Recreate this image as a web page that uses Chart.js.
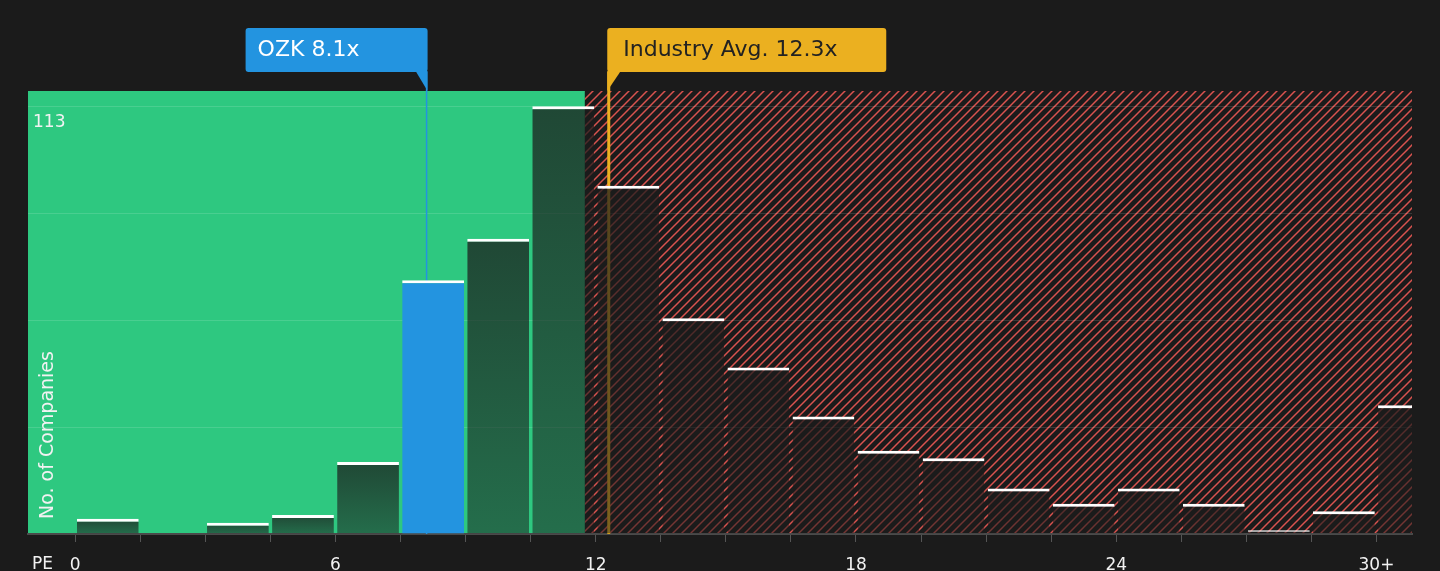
<!DOCTYPE html>
<html>
<head>
<meta charset="utf-8">
<title>PE distribution</title>
<script src="https://cdn.jsdelivr.net/npm/chart.js@4.4.1/dist/chart.umd.min.js"></script>
<style>
  html, body { margin: 0; padding: 0; background: #1b1b1b; }
  #peChart { display: block; }
</style>
</head>
<body>
<canvas id="peChart" width="1440" height="571"></canvas>
<script>
// PE bins (start of each 1.5 wide bin) and number of companies in each
var binStarts = [0, 1.5, 3, 4.5, 6, 7.5, 9, 10.5, 12, 13.5, 15, 16.5, 18, 19.5, 21, 22.5, 24, 25.5, 27, 28.5, 30];
var companyCounts = [4, 0, 3, 5, 19, 67, 78, 113, 92, 57, 44, 31, 22, 20, 12, 8, 12, 8, 1, 6, 34];
var binWidth = 1.5;

// axis labels
var labeledTicks = [0, 6, 12, 18, 24, 30];
var tickLabels = ['0', '6', '12', '18', '24', '30+'];
var yGridValues = [0, 28.25, 56.5, 84.75, 113];
var yTopLabel = 113;
var yMax = 117;
var xMin = -1.09;
var xMax = 30.82;

// markers
var ozkPE = 8.1;
var ozkLabel = 'OZK 8.1x';
var industryPE = 12.3;
var industryLabel = 'Industry Avg. 12.3x';
var greenZoneEnd = 11.75;

var FONT = '"DejaVu Sans", sans-serif';
var GREEN = '#2ec880';
var BLUE = '#2394e0';
var GOLD = '#ebb020';

var ctx = document.getElementById('peChart').getContext('2d');

// red diagonal hatch for the expensive zone
function makeHatch() {
    var p = document.createElement('canvas');
    p.width = 9; p.height = 9;
    var c = p.getContext('2d');
    c.fillStyle = '#1b1b1b';
    c.fillRect(0, 0, 9, 9);
    c.strokeStyle = '#d9534f';
    c.lineWidth = 1.5;
    c.beginPath();
    c.moveTo(0, 9); c.lineTo(9, 0);
    c.moveTo(-3, 3); c.lineTo(3, -3);
    c.moveTo(6, 12); c.lineTo(12, 6);
    c.stroke();
    return ctx.createPattern(p, 'repeat');
}
var hatch = makeHatch();

function isOzkBin(i) {
    return ozkPE >= binStarts[i] && ozkPE < binStarts[i] + binWidth;
}

// background zones + marker lines, drawn under grid and bars
var zonesPlugin = {
    id: 'zones',
    beforeDraw: function(chart) {
        var a = chart.chartArea, x = chart.scales.x, c = chart.ctx;
        var split = x.getPixelForValue(greenZoneEnd);
        c.save();
        c.fillStyle = GREEN;
        c.fillRect(a.left, a.top, split - a.left, a.bottom - a.top);
        c.fillStyle = hatch;
        c.fillRect(split, a.top, a.right - split, a.bottom - a.top);
        c.restore();
    },
    beforeDatasetsDraw: function(chart) {
        var a = chart.chartArea, x = chart.scales.x, c = chart.ctx;
        var ox = x.getPixelForValue(ozkPE);
        var ix = x.getPixelForValue(industryPE);
        c.save();
        c.strokeStyle = BLUE;
        c.lineWidth = 1.5;
        c.beginPath(); c.moveTo(ox, 72); c.lineTo(ox, a.bottom); c.stroke();
        c.strokeStyle = GOLD;
        c.lineWidth = 3;
        c.beginPath(); c.moveTo(ix, 72); c.lineTo(ix, a.bottom); c.stroke();
        c.restore();
    },
    afterDraw: function(chart) {
        var a = chart.chartArea, x = chart.scales.x, y = chart.scales.y, c = chart.ctx;
        var ox = x.getPixelForValue(ozkPE);
        var ix = x.getPixelForValue(industryPE);
        c.save();
        // OZK label, tail on the right
        c.fillStyle = BLUE;
        c.beginPath();
        c.roundRect(ox + 1 - 182, 28, 182, 44, 3);
        c.fill();
        c.beginPath();
        c.moveTo(ox - 11, 71); c.lineTo(ox + 1, 71); c.lineTo(ox + 1, a.top); c.closePath();
        c.fill();
        c.font = '22px ' + FONT;
        c.textBaseline = 'middle';
        c.fillStyle = '#ffffff';
        c.fillText(ozkLabel, ox + 1 - 182 + 12, 50);
        // industry label, tail on the left
        c.fillStyle = GOLD;
        c.beginPath();
        c.roundRect(ix - 1.5, 28, 279, 44, 3);
        c.fill();
        c.beginPath();
        c.moveTo(ix - 1.5, 71); c.lineTo(ix + 12, 71); c.lineTo(ix - 1.5, a.top); c.closePath();
        c.fill();
        c.fillStyle = '#222222';
        c.fillText(industryLabel, ix - 1.5 + 16, 50);
        // top value and axis titles
        c.font = '17px ' + FONT;
        c.fillStyle = '#f2f2f2';
        c.textBaseline = 'alphabetic';
        c.fillText(String(yTopLabel), a.left + 5, y.getPixelForValue(yTopLabel) + 21);
        c.fillText('PE', 32, 569);
        c.font = '19px ' + FONT;
        c.translate(53, 519);
        c.rotate(-Math.PI / 2);
        c.fillText('No. of Companies', 0, 0);
        c.restore();
    }
};

var chart = new Chart(ctx, {
    type: 'bar',
    data: {
        datasets: [{
            data: binStarts.map(function(s, i) {
                return { x: s + binWidth / 2, y: companyCounts[i] };
            }),
            backgroundColor: function(c) {
                if (c.type !== 'data') return 'rgba(27,27,27,0.6)';
                if (isOzkBin(c.dataIndex)) return BLUE;
                var area = c.chart.chartArea;
                if (!area) return 'rgba(27,27,27,0.6)';
                var ys = c.chart.scales.y;
                var top = ys.getPixelForValue(c.parsed.y);
                var bottom = ys.getPixelForValue(0);
                if (bottom - top < 1) return 'rgba(27,27,27,0.6)';
                var g = c.chart.ctx.createLinearGradient(0, top, 0, bottom);
                g.addColorStop(0, 'rgba(27,27,27,0.74)');
                g.addColorStop(1, 'rgba(27,27,27,0.52)');
                return g;
            },
            borderColor: '#ffffff',
            borderWidth: { top: 3, left: 0, right: 0, bottom: 0 },
            borderSkipped: 'bottom',
            barPercentage: 0.95,
            categoryPercentage: 1,
            clip: 0
        }]
    },
    options: {
        responsive: false,
        animation: false,
        devicePixelRatio: 1,
        layout: { padding: { top: 91, left: 28, right: 28, bottom: 0 } },
        plugins: {
            legend: { display: false },
            tooltip: { enabled: false }
        },
        scales: {
            x: {
                type: 'linear',
                min: xMin,
                max: xMax,
                offset: false,
                afterBuildTicks: function(axis) {
                    axis.ticks = binStarts.map(function(v) { return { value: v }; });
                },
                afterFit: function(axis) { axis.height = 37; },
                ticks: {
                    autoSkip: false,
                    maxRotation: 0,
                    padding: 13,
                    color: '#f2f2f2',
                    font: { family: FONT, size: 17 },
                    callback: function(value) {
                        var i = labeledTicks.indexOf(value);
                        return i >= 0 ? tickLabels[i] : '';
                    }
                },
                grid: {
                    offset: false,
                    drawOnChartArea: false,
                    drawTicks: true,
                    tickLength: 8,
                    color: '#555555'
                },
                border: { display: true, color: '#4a4a4a', width: 2 }
            },
            y: {
                min: 0,
                max: yMax,
                afterBuildTicks: function(axis) {
                    axis.ticks = yGridValues.map(function(v) { return { value: v }; });
                },
                afterFit: function(axis) { axis.width = 0; },
                ticks: { display: false },
                grid: {
                    color: 'rgba(255,255,255,0.13)',
                    drawTicks: false
                },
                border: { display: false }
            }
        }
    },
    plugins: [zonesPlugin]
});
</script>
</body>
</html>
